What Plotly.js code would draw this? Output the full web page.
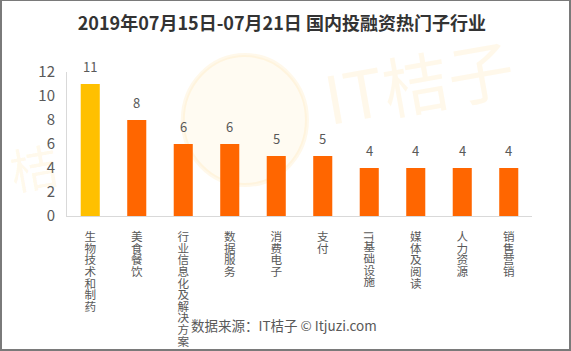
<!DOCTYPE html>
<html>
<head>
<meta charset="utf-8">
<script src="https://cdn.plot.ly/plotly-3.0.1.min.js"></script>
<style>
  html, body { margin: 0; padding: 0; background: #fff; }
  #wrap { position: relative; width: 571px; height: 351px; }
  #chart { position: absolute; left: 0; top: 0; width: 571px; height: 351px; }
  #frame { position: absolute; left: 0; top: 0; width: 571px; height: 351px; box-sizing: border-box;
           border: 2px solid #7a7a7a; border-top-width: 1px; pointer-events: none; }
  #chart .xtick text { writing-mode: vertical-rl !important; text-anchor: start !important; }
</style>
</head>
<body>
<div id="wrap">
  <div id="chart"></div>
  <div id="frame"></div>
</div>
<script>
const categories = ["生物技术和制药", "美食餐饮", "行业信息化及解决方案", "数据服务", "消费电子", "支付", "IT基础设施", "媒体及阅读", "人力资源", "销售营销"];
const values = [11, 8, 6, 6, 5, 5, 4, 4, 4, 4];
const barColors = ["#FFC000", "#FF6600", "#FF6600", "#FF6600", "#FF6600", "#FF6600", "#FF6600", "#FF6600", "#FF6600", "#FF6600"];
const yTicks = [0, 2, 4, 6, 8, 10, 12];

const cjk = '"Microsoft YaHei", "Noto Sans CJK SC", "Noto Sans", sans-serif';

const trace = {
  type: "bar",
  x: categories,
  y: values,
  marker: { color: barColors },
  hoverinfo: "none"
};

const labelAnns = categories.map((c, i) => ({
  x: c, y: values[i], xref: "x", yref: "y",
  text: String(values[i]), showarrow: false,
  yanchor: "bottom", yshift: 6,
  font: { family: cjk, size: 13, color: "#595959" }
}));

const wm = "rgba(255,195,60,0.11)";

const layout = {
  width: 571, height: 351,
  margin: { l: 67, r: 39, t: 72, b: 135 },
  paper_bgcolor: "#ffffff",
  plot_bgcolor: "rgba(0,0,0,0)",
  bargap: 0.59,
  showlegend: false,
  title: {
    text: "<b>2019年07月15日-07月21日 国内投融资热门子行业</b>",
    x: 0.462, xanchor: "center", xref: "paper",
    y: 0.932, yanchor: "middle",
    font: { family: cjk, size: 18, color: "#333333" }
  },
  xaxis: {
    type: "category",
    tickmode: "array",
    tickvals: categories,
    ticktext: categories,
    tickangle: 0,
    ticks: "",
    showline: true, linecolor: "#d9d9d9", linewidth: 1,
    showgrid: false, zeroline: false,
    tickfont: { family: cjk, size: 11.6, color: "#595959" },
    fixedrange: true
  },
  yaxis: {
    range: [0, 12],
    tickmode: "array",
    tickvals: yTicks,
    ticktext: yTicks.map(String),
    ticks: "",
    ticklabelstandoff: 8,
    showline: true, linecolor: "#d9d9d9", linewidth: 1,
    showgrid: false, zeroline: false,
    tickfont: { family: cjk, size: 15, color: "#595959" },
    fixedrange: true
  },
  annotations: labelAnns.concat([
    {
      xref: "paper", yref: "paper", x: 0.756, y: 0.944,
      xanchor: "center", yanchor: "middle",
      text: "IT桔子", showarrow: false, textangle: -10,
      font: { family: cjk, size: 66, color: wm }
    },
    {
      xref: "paper", yref: "paper", x: -0.072, y: 0.35,
      xanchor: "center", yanchor: "middle",
      text: "桔", showarrow: false, textangle: -10,
      font: { family: cjk, size: 48, color: wm }
    },
    {
      xref: "paper", yref: "paper", x: 0.467, y: -0.76,
      xanchor: "center", yanchor: "middle",
      text: "数据来源：IT桔子 © Itjuzi.com", showarrow: false,
      font: { family: cjk, size: 13.5, color: "#595959" }
    }
  ]),
  shapes: [
    {
      type: "circle", xref: "paper", yref: "paper",
      x0: 0.249, x1: 0.516, y0: 0.215, y1: 1.118,
      fillcolor: "rgba(255,200,70,0.07)",
      line: { color: wm, width: 4 },
      layer: "below"
    }
  ]
};

Plotly.newPlot("chart", [trace], layout, { staticPlot: true, displayModeBar: false });
</script>
</body>
</html>
